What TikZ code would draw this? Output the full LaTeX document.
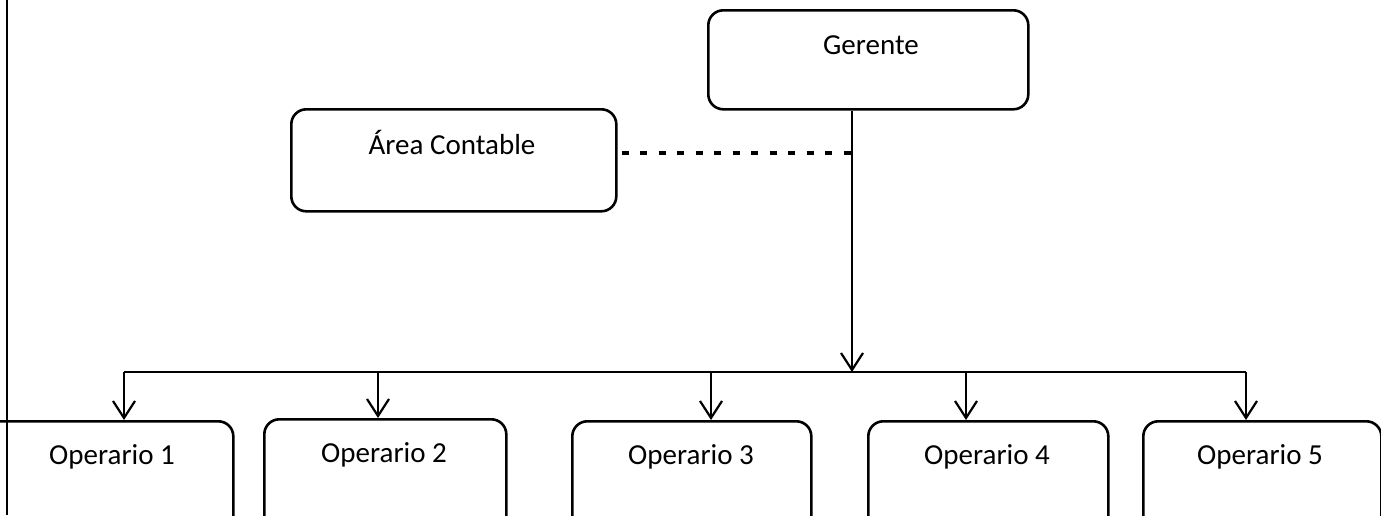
\documentclass[tikz,border=0pt]{standalone}
\usepackage{fontspec}
\setmainfont{Carlito}
\usetikzlibrary{arrows.meta}
\tikzset{
  box/.style={draw=black, line width=2.6pt, rounded corners=15pt, anchor=north west, inner sep=0pt},
  lbl/.style={anchor=base, inner sep=0pt, font=\fontsize{29}{34}\selectfont},
  conn/.style={line width=2.2pt, draw=black},
  arr/.style={conn, -{Straight Barb[length=17pt,width=22pt,line width=2.2pt]}},
  dashline/.style={line width=3.6pt, dash pattern=on 7pt off 11.5pt},
  busline/.style={line width=2pt}
}
\begin{document}
\begin{tikzpicture}[x=1pt,y=-1pt]
\useasboundingbox (0,0) rectangle (1381,515);
\clip (0,0) rectangle (1381,515);
\fill[white] (0,0) rectangle (1381,515);
% left frame line
\coordinate (lt) at (7,0);
\coordinate (lb) at (7,515);
\draw[conn, line width=2.6pt] (lt) -- (lb);
% boxes
\node[box, minimum width=320pt, minimum height=99pt] (ger) at (707,9) {};
\node[lbl] (gert) at (871,54) {Gerente};
\node[box, minimum width=325pt, minimum height=102pt] (ac) at (290,108) {};
\node[lbl] (act) at (452,154) {Área Contable};
\node[box, minimum width=262pt, minimum height=120pt] (op1) at (-30,420) {};
\node[lbl] (op1t) at (112,464) {Operario 1};
\node[box, minimum width=242pt, minimum height=120pt] (op2) at (263,418) {};
\node[lbl] (op2t) at (384,462) {Operario 2};
\node[box, minimum width=239pt, minimum height=120pt] (op3) at (571,420) {};
\node[lbl] (op3t) at (691,464) {Operario 3};
\node[box, minimum width=240pt, minimum height=120pt] (op4) at (867,420) {};
\node[lbl] (op4t) at (987,464) {Operario 4};
\node[box, minimum width=238pt, minimum height=120pt] (op5) at (1142,420) {};
\node[lbl] (op5t) at (1260,464) {Operario 5};
% junctions
\coordinate (dj) at (852,153);
\coordinate (gj) at (852,372);
\coordinate (b1) at (124,372);
\coordinate (b2) at (378,372);
\coordinate (b3) at (711,372);
\coordinate (b4) at (966,372);
\coordinate (b5) at (1246,372);
% connectors
\draw[dashline] ([xshift=4pt]dj -| ac.east) -- (dj);
\draw[arr] (gj |- ger.south) -- (gj);
\draw[busline] (b1) -- (b5);
\draw[arr] (b1) -- (b1 |- op1.north);
\draw[arr] (b2) -- (b2 |- op2.north);
\draw[arr] (b3) -- (b3 |- op3.north);
\draw[arr] (b4) -- (b4 |- op4.north);
\draw[arr] (b5) -- (b5 |- op5.north);
\end{tikzpicture}
\end{document}
